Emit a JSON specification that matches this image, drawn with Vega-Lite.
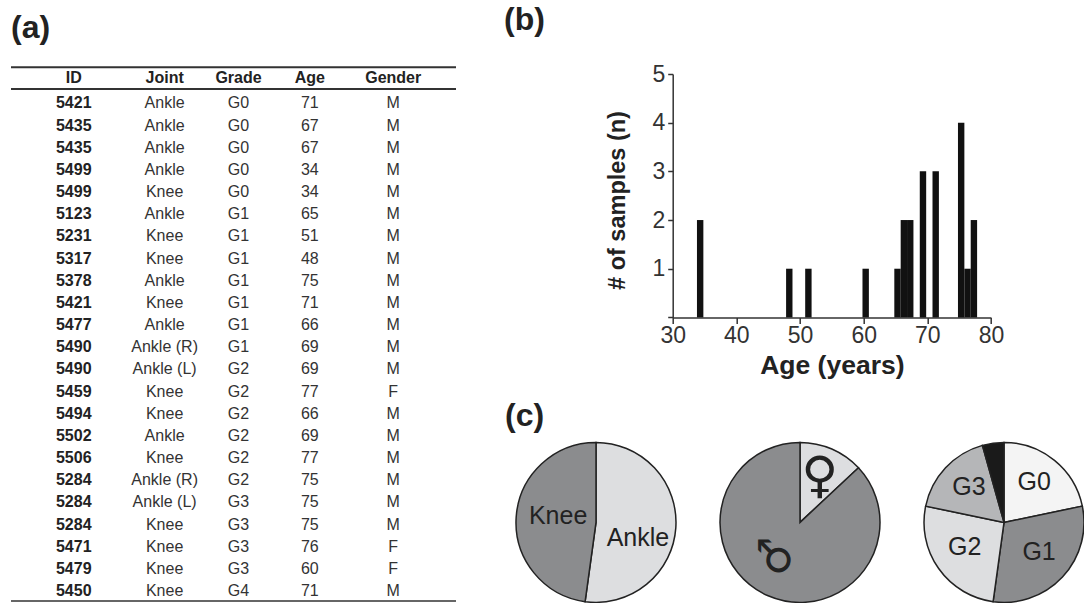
{
  "$schema": "https://vega.github.io/schema/vega-lite/v6.json",
  "padding": {"left": 10, "top": 4, "right": 0, "bottom": 0},
  "config": {
    "view": {"stroke": null},
    "font": "Liberation Sans",
    "title": {"font": "Liberation Sans", "fontSize": 32, "fontWeight": "bold", "color": "#222", "anchor": "start", "frame": "group", "baseline": "alphabetic"}
  },
  "datasets": {
    "samples": [
      {"ID": 5421, "Joint": "Ankle", "Grade": "G0", "Age": 71, "Gender": "M"},
      {"ID": 5435, "Joint": "Ankle", "Grade": "G0", "Age": 67, "Gender": "M"},
      {"ID": 5435, "Joint": "Ankle", "Grade": "G0", "Age": 67, "Gender": "M"},
      {"ID": 5499, "Joint": "Ankle", "Grade": "G0", "Age": 34, "Gender": "M"},
      {"ID": 5499, "Joint": "Knee", "Grade": "G0", "Age": 34, "Gender": "M"},
      {"ID": 5123, "Joint": "Ankle", "Grade": "G1", "Age": 65, "Gender": "M"},
      {"ID": 5231, "Joint": "Knee", "Grade": "G1", "Age": 51, "Gender": "M"},
      {"ID": 5317, "Joint": "Knee", "Grade": "G1", "Age": 48, "Gender": "M"},
      {"ID": 5378, "Joint": "Ankle", "Grade": "G1", "Age": 75, "Gender": "M"},
      {"ID": 5421, "Joint": "Knee", "Grade": "G1", "Age": 71, "Gender": "M"},
      {"ID": 5477, "Joint": "Ankle", "Grade": "G1", "Age": 66, "Gender": "M"},
      {"ID": 5490, "Joint": "Ankle (R)", "Grade": "G1", "Age": 69, "Gender": "M"},
      {"ID": 5490, "Joint": "Ankle (L)", "Grade": "G2", "Age": 69, "Gender": "M"},
      {"ID": 5459, "Joint": "Knee", "Grade": "G2", "Age": 77, "Gender": "F"},
      {"ID": 5494, "Joint": "Knee", "Grade": "G2", "Age": 66, "Gender": "M"},
      {"ID": 5502, "Joint": "Ankle", "Grade": "G2", "Age": 69, "Gender": "M"},
      {"ID": 5506, "Joint": "Knee", "Grade": "G2", "Age": 77, "Gender": "M"},
      {"ID": 5284, "Joint": "Ankle (R)", "Grade": "G2", "Age": 75, "Gender": "M"},
      {"ID": 5284, "Joint": "Ankle (L)", "Grade": "G3", "Age": 75, "Gender": "M"},
      {"ID": 5284, "Joint": "Knee", "Grade": "G3", "Age": 75, "Gender": "M"},
      {"ID": 5471, "Joint": "Knee", "Grade": "G3", "Age": 76, "Gender": "F"},
      {"ID": 5479, "Joint": "Knee", "Grade": "G3", "Age": 60, "Gender": "F"},
      {"ID": 5450, "Joint": "Knee", "Grade": "G4", "Age": 71, "Gender": "M"}
    ],
    "joints": [{"Joint": "Ankle", "n": 12}, {"Joint": "Knee", "n": 11}],
    "genders": [{"Gender": "F", "n": 3}, {"Gender": "M", "n": 20}],
    "grades": [{"Grade": "G0", "n": 5}, {"Grade": "G1", "n": 7}, {"Grade": "G2", "n": 6}, {"Grade": "G3", "n": 4}, {"Grade": "G4", "n": 1}]
  },
  "bounds": "flush",
  "spacing": 60,
  "resolve": {"scale": {"color": "independent"}},
  "hconcat": [
    {
      "width": 445,
      "height": 530,
      "title": {"text": "(a)", "offset": 21},
      "data": {"name": "samples"},
      "transform": [
        {"window": [{"op": "row_number", "as": "row"}]},
        {"fold": ["ID", "Joint", "Grade", "Age", "Gender"], "as": ["column", "value"]}
      ],
      "encoding": {
        "x": {"field": "column", "type": "nominal", "scale": {"type": "point", "domain": ["ID", "Joint", "Grade", "Age", "Gender"], "padding": 0.786}, "axis": null},
        "y": {"field": "row", "type": "quantitative", "scale": {"domain": [-0.331, 23.586], "reverse": true, "nice": false, "zero": false}, "axis": null},
        "text": {"field": "value", "type": "nominal"}
      },
      "layer": [
        {"transform": [{"filter": "datum.column === 'ID'"}],
         "mark": {"type": "text", "fontSize": 16, "fontWeight": "bold", "color": "#222", "baseline": "middle"}},
        {"transform": [{"filter": "datum.column === 'Gender'"}],
         "mark": {"type": "text", "fontSize": 16, "color": "#333", "baseline": "middle"}},
        {"transform": [{"filter": "datum.column === 'Joint'"}],
         "mark": {"type": "text", "fontSize": 16, "color": "#333", "baseline": "middle", "xOffset": 11}},
        {"transform": [{"filter": "datum.column === 'Grade'"}],
         "mark": {"type": "text", "fontSize": 16, "color": "#333", "baseline": "middle", "xOffset": 5}},
        {"transform": [{"filter": "datum.column === 'Age'"}],
         "mark": {"type": "text", "fontSize": 16, "color": "#333", "baseline": "middle", "xOffset": -3.5}},
        {"transform": [{"filter": "datum.row === 1 && (datum.column === 'ID' || datum.column === 'Gender')"}],
         "mark": {"type": "text", "fontSize": 16, "fontWeight": "bold", "color": "#222", "baseline": "middle"},
         "encoding": {"y": {"datum": -0.15, "type": "quantitative"}, "text": {"field": "column", "type": "nominal"}}},
        {"transform": [{"filter": "datum.row === 1 && datum.column === 'Joint'"}],
         "mark": {"type": "text", "fontSize": 16, "fontWeight": "bold", "color": "#222", "baseline": "middle", "xOffset": 11},
         "encoding": {"y": {"datum": -0.15, "type": "quantitative"}, "text": {"field": "column", "type": "nominal"}}},
        {"transform": [{"filter": "datum.row === 1 && datum.column === 'Grade'"}],
         "mark": {"type": "text", "fontSize": 16, "fontWeight": "bold", "color": "#222", "baseline": "middle", "xOffset": 5},
         "encoding": {"y": {"datum": -0.15, "type": "quantitative"}, "text": {"field": "column", "type": "nominal"}}},
        {"transform": [{"filter": "datum.row === 1 && datum.column === 'Age'"}],
         "mark": {"type": "text", "fontSize": 16, "fontWeight": "bold", "color": "#222", "baseline": "middle", "xOffset": -3.5},
         "encoding": {"y": {"datum": -0.15, "type": "quantitative"}, "text": {"field": "column", "type": "nominal"}}},
        {"transform": [{"filter": "datum.row === 1 && datum.column === 'ID'"}],
         "mark": {"type": "rule", "color": "#333", "strokeWidth": 2},
         "encoding": {"x": {"value": 0}, "x2": {"value": 445}, "y": {"datum": -0.63, "type": "quantitative"}, "text": null}},
        {"transform": [{"filter": "datum.row === 1 && datum.column === 'ID'"}],
         "mark": {"type": "rule", "color": "#333", "strokeWidth": 2},
         "encoding": {"x": {"value": 0}, "x2": {"value": 445}, "y": {"datum": 0.346, "type": "quantitative"}, "text": null}},
        {"transform": [{"filter": "datum.row === 1 && datum.column === 'ID'"}],
         "mark": {"type": "rule", "color": "#333", "strokeWidth": 1.5},
         "encoding": {"x": {"value": 0}, "x2": {"value": 445}, "y": {"datum": 23.45, "type": "quantitative"}, "text": null}}
      ]
    },
    {
      "bounds": "flush",
      "spacing": 368.4,
      "resolve": {"scale": {"color": "independent"}},
      "vconcat": [
        {
          "bounds": "flush",
          "spacing": 56.7,
          "hconcat": [
            {
              "width": 100,
              "height": 243.4,
              "title": {"text": "(b)", "offset": 37, "dx": -12},
              "data": {"name": "joints"},
              "mark": {"type": "text", "opacity": 0},
              "encoding": {"text": {"value": ""}}
            },
            {
              "width": 318.3,
              "height": 243.4,
              "data": {"name": "samples"},
              "mark": {"type": "bar", "size": 6.4, "color": "#111", "xOffset": 2},
              "encoding": {
                "x": {"field": "Age", "type": "quantitative",
                      "scale": {"domain": [30, 80], "nice": false, "zero": false, "padding": 0},
                      "axis": {"values": [30, 40, 50, 60, 70, 80], "title": "Age (years)", "titleFontSize": 26.5, "titleFontWeight": "bold", "titleColor": "#222", "titlePadding": 5,
                               "labelFontSize": 23, "labelColor": "#333", "labelPadding": 1, "labelFlush": false, "labelOverlap": false,
                               "tickSize": 6, "tickColor": "#333", "tickWidth": 1.5, "domainColor": "#333", "domainWidth": 1.5, "grid": false}},
                "y": {"aggregate": "count", "type": "quantitative",
                      "scale": {"domain": [0, 5], "nice": false, "padding": 0},
                      "axis": {"values": [0, 1, 2, 3, 4, 5], "labelExpr": "datum.value == 0 ? '' : datum.label", "title": "# of samples (n)", "titleFontSize": 23.5, "titleFontWeight": "bold", "titleColor": "#222", "titlePadding": 22, "titleY": 126,
                               "labelFontSize": 23, "labelColor": "#333", "labelPadding": 3, "labelFlush": false, "labelOverlap": false,
                               "tickSize": 5, "tickColor": "#333", "tickWidth": 1.5, "domainColor": "#333", "domainWidth": 1.5, "grid": false}}
              }
            }
          ]
        },
        {
          "bounds": "flush",
          "spacing": 44,
          "title": {"text": "(c)", "offset": 6, "dx": -11},
          "resolve": {"scale": {"color": "independent"}},
          "hconcat": [
            {
              "width": 160,
              "height": 160,
              "data": {"name": "joints"},
              "encoding": {
                "theta": {"field": "n", "type": "quantitative", "stack": true},
                "order": {"field": "Joint", "sort": "ascending"},
                "detail": {"field": "Joint", "type": "nominal"}
              },
              "layer": [
                {
                  "mark": {"type": "arc", "stroke": "#222", "strokeWidth": 1.5},
                  "encoding": {"color": {"field": "Joint", "type": "nominal", "scale": {"domain": ["Ankle", "Knee"], "range": ["#dddee0", "#8b8c8e"]}, "legend": null}}
                },
                {
                  "mark": {"type": "text", "fontSize": 25, "color": "#222", "radius": 42, "dy": 13},
                  "encoding": {"text": {"condition": {"test": "datum.Joint === 'Ankle'", "value": "Ankle"}, "value": ""}}
                },
                {
                  "mark": {"type": "text", "fontSize": 25, "color": "#222", "radius": 38, "dy": -4},
                  "encoding": {"text": {"condition": {"test": "datum.Joint === 'Knee'", "value": "Knee"}, "value": ""}}
                }
              ]
            },
            {
              "width": 160,
              "height": 160,
              "data": {"name": "genders"},
              "encoding": {
                "theta": {"field": "n", "type": "quantitative", "stack": true},
                "order": {"field": "Gender", "sort": "ascending"},
                "detail": {"field": "Gender", "type": "nominal"}
              },
              "layer": [
                {
                  "mark": {"type": "arc", "stroke": "#222", "strokeWidth": 1.5},
                  "encoding": {"color": {"field": "Gender", "type": "nominal", "scale": {"domain": ["F", "M"], "range": ["#dddee0", "#8b8c8e"]}, "legend": null}}
                },
                {
                  "mark": {"type": "text", "font": "DejaVu Sans", "fontSize": 50, "color": "#222", "radius": 50},
                  "encoding": {"text": {"condition": {"test": "datum.Gender === 'F'", "value": "♀"}, "value": ""}}
                },
                {
                  "mark": {"type": "text", "font": "DejaVu Sans", "fontSize": 44, "color": "#222", "radius": 42, "angle": 270, "dx": 5, "dy": -6},
                  "encoding": {"text": {"condition": {"test": "datum.Gender === 'M'", "value": "♂"}, "value": ""}}
                }
              ]
            },
            {
              "width": 160,
              "height": 160,
              "data": {"name": "grades"},
              "encoding": {
                "theta": {"field": "n", "type": "quantitative", "stack": true},
                "order": {"field": "Grade", "sort": "ascending"},
                "detail": {"field": "Grade", "type": "nominal"}
              },
              "layer": [
                {
                  "mark": {"type": "arc", "stroke": "#222", "strokeWidth": 1.5},
                  "encoding": {"color": {"field": "Grade", "type": "nominal", "scale": {"domain": ["G0", "G1", "G2", "G3", "G4"], "range": ["#f4f4f4", "#8b8c8e", "#dddee0", "#b5b6b8", "#1a1a1a"]}, "legend": null}}
                },
                {
                  "mark": {"type": "text", "fontSize": 25, "color": "#222", "radius": 48, "dy": -3},
                  "encoding": {"text": {"condition": {"test": "datum.Grade === 'G4'", "value": ""}, "field": "Grade", "type": "nominal"}}
                }
              ]
            }
          ]
        }
      ]
    }
  ]
}
